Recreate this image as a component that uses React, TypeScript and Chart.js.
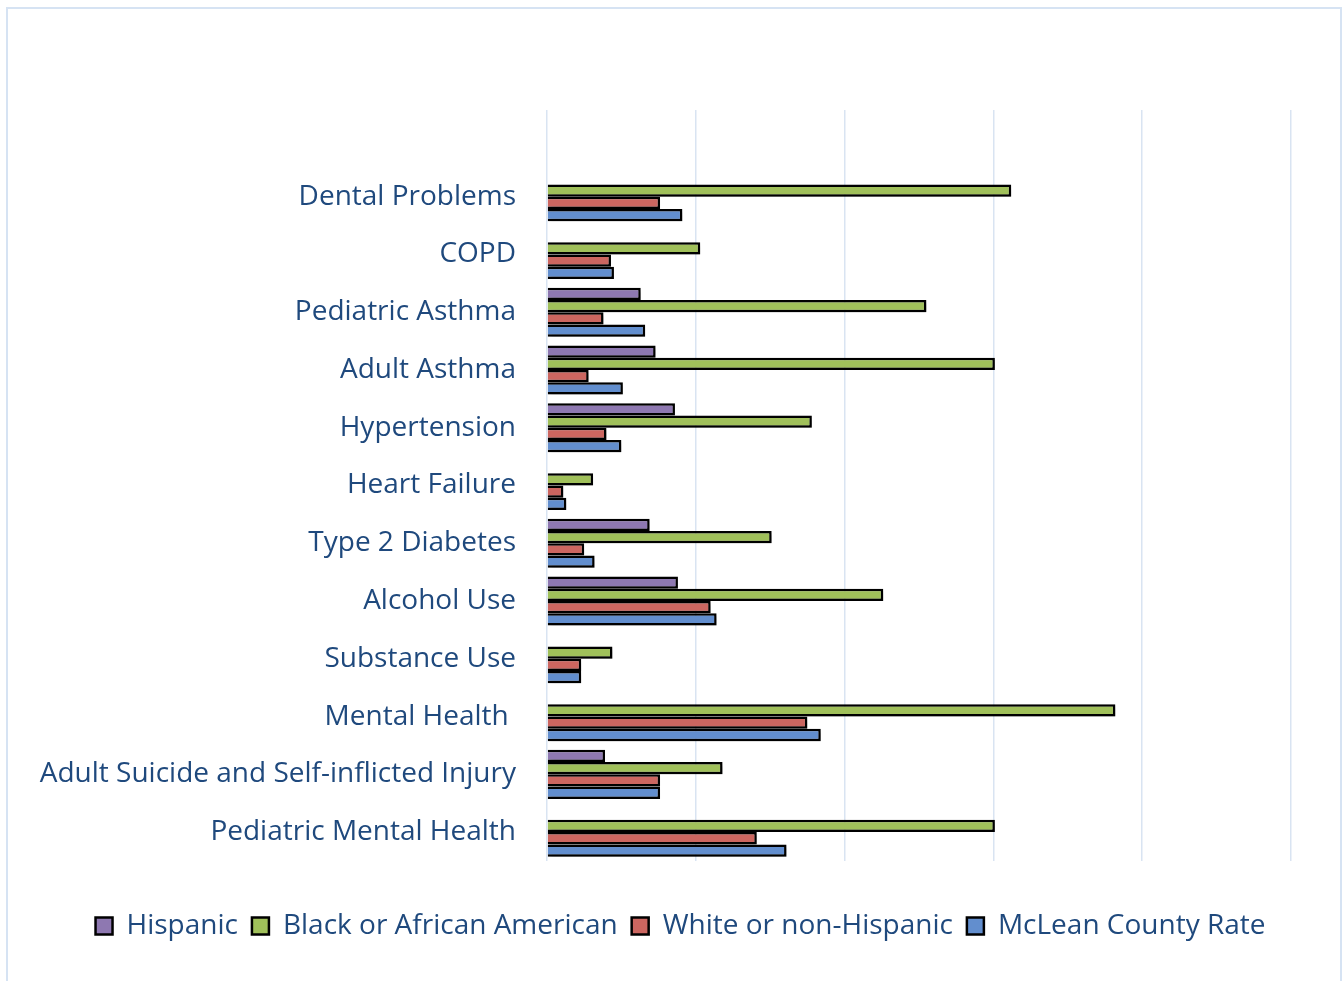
import React, { useEffect, useRef } from "react";
import { Chart, registerables } from "chart.js";

Chart.register(...registerables);

const categories = [
  "",
  "Dental Problems",
  "COPD",
  "Pediatric Asthma",
  "Adult Asthma",
  "Hypertension",
  "Heart Failure",
  "Type 2 Diabetes",
  "Alcohol Use",
  "Substance Use",
  "Mental Health ",
  "Adult Suicide and Self-inflicted Injury",
  "Pediatric Mental Health",
];

const hispanic = [null, null, null, 0.63, 0.73, 0.86, null, 0.69, 0.88, null, null, 0.39, null];
const black = [null, 3.12, 1.03, 2.55, 3.01, 1.78, 0.31, 1.51, 2.26, 0.44, 3.82, 1.18, 3.01];
const white = [null, 0.76, 0.43, 0.38, 0.28, 0.4, 0.11, 0.25, 1.1, 0.23, 1.75, 0.76, 1.41];
const mclean = [null, 0.91, 0.45, 0.66, 0.51, 0.5, 0.13, 0.32, 1.14, 0.23, 1.84, 0.76, 1.61];

const seriesNames = ["Hispanic", "Black or African American", "White or non-Hispanic", "McLean County Rate"];
const seriesColors = ["#8E78B1", "#A0C05A", "#CC6660", "#628ECE"];

const TEXT = "#1F497D";
const FONT = "'Open Sans'";

const shadowPlugin = {
  id: "barShadow",
  afterLayout(chart: any) {
    const lg = chart.legend;
    if (lg) {
      lg.left = 70;
      lg.width = lg.right - lg.left;
    }
  },
  beforeDatasetsDraw(chart: any) {
    const ctx = chart.ctx;
    ctx.save();
    ctx.shadowColor = "rgba(0,0,0,0.3)";
    ctx.shadowBlur = 4;
    ctx.shadowOffsetX = 2;
    ctx.shadowOffsetY = 3;
  },
  afterDatasetsDraw(chart: any) {
    chart.ctx.restore();
  },
};

export default function App() {
  const ref = useRef<HTMLCanvasElement>(null);

  useEffect(() => {
    if (!ref.current) return;
    const values = [hispanic, black, white, mclean];
    const chart = new Chart(ref.current, {
      type: "bar",
      data: {
        labels: categories,
        datasets: values.map((v, i) => ({
          label: seriesNames[i],
          data: v,
          backgroundColor: seriesColors[i],
          borderColor: "#000000",
          borderWidth: 2.5,
          categoryPercentage: 0.85,
          barPercentage: 1.0,
        })),
      },
      plugins: [shadowPlugin],
      options: {
        indexAxis: "y",
        animation: false,
        responsive: true,
        maintainAspectRatio: false,
        layout: { padding: { top: 110, right: 53, bottom: 31, left: 0 } },
        plugins: {
          legend: {
            position: "bottom",
            labels: {
              boxWidth: 17,
              boxHeight: 17,
              padding: 14,
              color: TEXT,
              font: { family: FONT, size: 28 },
            },
          },
          tooltip: { enabled: false },
        },
        scales: {
          x: {
            min: 0,
            max: 5,
            ticks: { display: false, stepSize: 1 },
            grid: { color: "#D9E4F2", lineWidth: 1.5, drawTicks: false },
            border: { display: false },
            afterFit: (s: any) => {
              s.height = 37;
            },
          },
          y: {
            grid: { display: false, drawTicks: false },
            border: { display: false },
            ticks: {
              color: TEXT,
              padding: 31,
              font: { family: FONT, size: 28 },
              autoSkip: false,
            },
            afterFit: (s: any) => {
              s.width = 547;
            },
          },
        },
      },
    });
    return () => chart.destroy();
  }, []);

  return (
    <div style={{ position: "absolute", left: 0, top: 0, width: 1344, height: 981, background: "#fff", overflow: "hidden" }}>
      <div
        style={{
          position: "absolute",
          left: 6,
          top: 7,
          width: 1332,
          height: 990,
          border: "2px solid #D6E3F3",
        }}
      />
      <canvas ref={ref} style={{ position: "absolute", left: 0, top: 0, width: 1344, height: 981 }} />
    </div>
  );
}
